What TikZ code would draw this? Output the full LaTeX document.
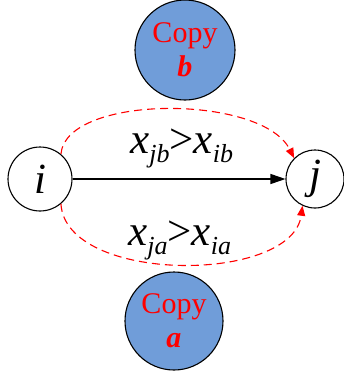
\documentclass[tikz,border=0pt]{standalone}
\usepackage{fontspec}
\setmainfont{Liberation Serif}
\usetikzlibrary{arrows.meta}
\definecolor{copyblue}{RGB}{112,157,217}
\newcommand\xsub[1]{\textit{x}\raisebox{-9pt}{\fontsize{26}{26}\selectfont\textit{#1}}}
\begin{document}
\begin{tikzpicture}[x=1pt,y=-1pt,
  vertex/.style={circle,draw=black,line width=1.1pt,inner sep=0pt,font=\fontsize{43}{43}\selectfont\itshape},
  copynode/.style={circle,draw=black,line width=1.1pt,fill=copyblue,inner sep=0pt,align=center,text=red,font=\fontsize{30}{36}\selectfont},
  lab/.style={anchor=base west,inner sep=0pt,font=\fontsize{43}{43}\selectfont},
  redarc/.style={red,dashed,dash pattern=on 8pt off 5pt,line width=1.1pt,-{Triangle[length=10pt,width=8pt]}}]
\useasboundingbox (0,0) rectangle (344,376);
\node[vertex,minimum size=64pt] (i) at (40,179) {i};
\node[vertex,minimum size=58pt] (j) at (315,179) {j};
\node[copynode,minimum size=100pt] (b) at (185,50) {Copy\\[-2pt]\textbf{\textit{b}}};
\node[copynode,minimum size=98pt] (a) at (174,321) {Copy\\[-2pt]\textbf{\textit{a}}};
\draw[line width=1.1pt,-{Triangle[length=15pt,width=10pt]}] (i) -- (j);
\node[lab] (lt) at (130,153) {\xsub{jb}>\xsub{ib}};
\node[lab] (lb) at (128,245) {\xsub{ja}>\xsub{ia}};
\draw[redarc] (i.50) .. controls (66,94) and (262,94) .. (j.135);
\draw[redarc] (i.-50) .. controls (66,284) and (292,284) .. (j.-115);
\end{tikzpicture}
\end{document}
